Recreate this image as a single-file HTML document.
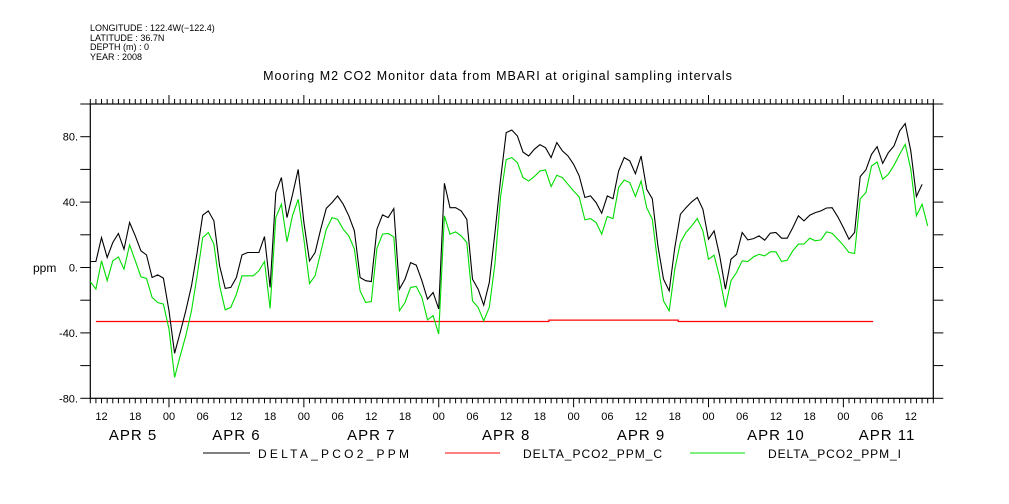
<!DOCTYPE html>
<html><head><meta charset="utf-8"><style>
body{margin:0;background:#fff;}
svg{display:block;font-family:"Liberation Sans",sans-serif;}
</style></head><body>
<svg id="chart" width="1009" height="504" viewBox="0 0 1009 504" xmlns="http://www.w3.org/2000/svg">
<rect width="1009" height="504" fill="#fff"/>
<g font-size="9" fill="#000">
<text x="90" y="31">LONGITUDE : 122.4W(−122.4)</text>
<text x="90" y="41">LATITUDE : 36.7N</text>
<text x="90" y="50">DEPTH (m) : 0</text>
<text x="90" y="60">YEAR : 2008</text>
</g>
<text x="498" y="80" font-size="12.5" letter-spacing="1" text-anchor="middle">Mooring M2 CO2 Monitor data from MBARI at original sampling intervals</text>
<text x="33" y="272" font-size="12">ppm</text>
<g id="axes"></g>
<g id="series"></g>
<g font-size="12" letter-spacing="3">
<line x1="203" y1="453" x2="250" y2="453" stroke="#000"/>
<text x="258" y="458" textLength="154" lengthAdjust="spacing">DELTA_PCO2_PPM</text>
<line x1="445" y1="453" x2="500" y2="453" stroke="#f00"/>
<text x="523" y="458" textLength="142" lengthAdjust="spacing">DELTA_PCO2_PPM_C</text>
<line x1="690" y1="453" x2="745" y2="453" stroke="#0d0"/>
<text x="768" y="458" textLength="136" lengthAdjust="spacing">DELTA_PCO2_PPM_I</text>
</g>
</svg>
<script>
const startHour = 10;
const blackValues = [3.7,3.7,18.3,6.1,15.3,20.8,11.2,27.5,19.3,10.2,7.7,-6.1,-4.5,-6.5,-26.5,-52.5,-39.7,-26.5,-11.2,9.2,32,34.6,28.5,1,-12.8,-12.2,-6.1,7.7,9.2,9.2,9.2,18.9,-12.2,45.8,55,30.5,44.8,60,27.5,4,9.2,23.4,36.2,39.7,43.8,38.7,31.6,22.4,-6.1,-8.1,-8.6,23.4,32.2,30.5,36,-13.2,-7.1,3,1.4,-8.1,-19.3,-15.3,-25.4,51.5,36.6,36.6,34.6,29.5,-7.1,-13.2,-23,-9.2,21,54,82.5,
84.1,80.4,70.6,68.2,72.3,75.1,73.3,67.2,76.4,71.3,68.2,63.1,56,42.8,43.8,39.7,33.2,43.8,42.1,59,67.2,65.2,57.4,68.2,47.8,42.1,13.2,-7.1,-14.3,12.2,32.6,36.6,40.1,42.8,35.6,17.3,22.4,7.1,-13.2,5.1,8.1,21.4,16.9,17.7,19.3,16.7,21,21.4,17.9,17.9,24.4,31.6,28.5,32,33.6,34.6,36.4,36.6,31,24.4,17.3,21.4,55.6,59.7,69.2,73.9,63.7,70.2,74.3,83.5,88,71.3,43.4,50.9,null];
const greenValues = [-8.6,-13.2,4.1,-8.1,4.1,6.5,-1,13.8,4.1,-5.7,-6.7,-18.3,-21.4,-22.4,-37.7,-67.2,-54,-41.7,-26.5,-5.1,18.3,21.4,14.3,-11.2,-25.9,-24.4,-16.3,-5.1,-5.1,-5.1,-2,3.7,-25,30.5,38.7,15.7,32,41.7,17.3,-9.8,-5.1,9.2,23.4,30.5,29.5,23.4,19.3,11.2,-14.3,-21.4,-20.8,11.6,20.4,20.8,18.7,-26.5,-21.4,-12.2,-11.6,-18.3,-32,-29.5,-40.7,31.6,20.4,21.8,19.3,15.3,-20.4,-24.4,-32.6,-24.4,2,43.5,66,
67.2,64.1,55,52.9,55.6,59,59.7,49.5,56.4,55,50.9,46.8,43.2,29.1,29.9,27.5,20.4,31.2,29.9,48.9,53.5,51.9,43.4,52.9,36.6,29.5,2,-20.4,-26.5,-1,15.3,21.4,25.4,29.9,22.4,5.1,7.5,-6.1,-24.4,-8.1,-3,4.1,3.7,6.5,8.1,7.1,9.6,9.6,3.7,4.5,10.2,14.3,14.3,17.9,16.3,16.9,21.8,21,17.3,13.6,9.2,8.6,42.1,45.8,62.1,64.5,54,57,62.5,69.2,75.3,60.1,31.6,38.7,25.4];
const redHours = [11,91.6,91.6,114.6,114.6,149.3];
const redValues = [-33,-33,-32.2,-32.2,-33,-33];
const yTicks = [-80,-40,0,40,80];
const yTickLabels = ["-80.","-40.","0.","40.","80."];
const dayLabels = ["APR   5","APR   6","APR   7","APR   8","APR   9","APR  10","APR  11"];

const X0=90.3, X1=933.3, Y0=104, Y1=398.3, H0=10, H1=160, V0=-80, V1=100;
const NS="http://www.w3.org/2000/svg";
function xs(h){return X0+(h-H0)*(X1-X0)/(H1-H0);}
function ys(v){return Y1-(v-V0)*(Y1-Y0)/(V1-V0);}
function mk(tag,attrs,parent){const e=document.createElementNS(NS,tag);for(const k in attrs)e.setAttribute(k,attrs[k]);parent.appendChild(e);return e;}
const axes=document.getElementById('axes');
const frame=mk('rect',{x:X0,y:Y0,width:X1-X0,height:Y1-Y0,fill:'none',stroke:'#000','stroke-width':1.2},axes);


for(let h=H0;h<=H1;h++){
  const x=xs(h);const major=(h%24===0);const len=major?9:5;
  const t1=mk('line',{x1:x,y1:Y0,x2:x,y2:Y0-len,stroke:'#000'},axes);
  
  
  const t2=mk('line',{x1:x,y1:Y1,x2:x,y2:Y1+len,stroke:'#000'},axes);
  
  
  if(h%6===0){
    const lb=mk('text',{x:x,y:420,'font-size':11,'text-anchor':'middle'},axes);
    lb.textContent=String(h%24).padStart(2,'0');
    
    
  }
}
dayLabels.forEach((d,i)=>{
  let c=xs(i*24+12);const w=72;
  if(c-w/2<97)c=97+w/2;
  if(c+w/2>923)c=923-w/2;
  const t=mk('text',{x:c,y:440,'font-size':15,'text-anchor':'middle','xml:space':'preserve','letter-spacing':1},axes);
  t.textContent=d;
  
  
});
for(let v=V0;v<=V1;v+=20){
  const y=ys(v);
  const a=mk('line',{x1:X0,y1:y,x2:X0-10,y2:y,stroke:'#000'},axes);
  
  
  const b=mk('line',{x1:X1,y1:y,x2:X1+10,y2:y,stroke:'#000'},axes);
  
  
}
yTicks.forEach((v,i)=>{
  const t=mk('text',{x:78,y:ys(v)+4,'font-size':11,'text-anchor':'end'},axes);
  t.textContent=yTickLabels[i];
  
  
});
const series=document.getElementById('series');
function pathFrom(hours,vals){let d='';let pen=false;for(let i=0;i<vals.length;i++){if(vals[i]===null){pen=false;continue;}d+=(pen?'L':'M')+xs(hours[i]).toFixed(1)+','+ys(vals[i]).toFixed(1);pen=true;}return d;}
const hrs=greenValues.map((_,i)=>startHour+i);
const red=mk('path',{d:pathFrom(redHours,redValues),fill:'none',stroke:'#f00','stroke-width':1.2},series);


const green=mk('path',{d:pathFrom(hrs,greenValues),fill:'none',stroke:'#0d0','stroke-width':1.1},series);


const black=mk('path',{d:pathFrom(hrs,blackValues),fill:'none',stroke:'#000','stroke-width':1.1},series);


</script>
</body></html>
